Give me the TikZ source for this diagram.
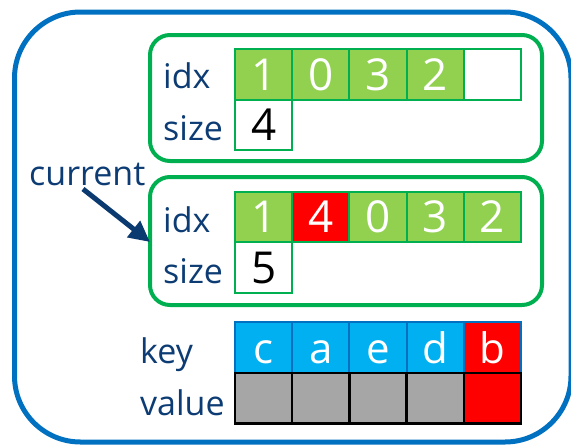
\documentclass[tikz,border=0pt]{standalone}
\usepackage{fontspec}
\setmainfont{Open Sans}
\usetikzlibrary{arrows.meta}
\definecolor{frameblue}{RGB}{0,112,192}
\definecolor{framegreen}{RGB}{0,176,80}
\definecolor{cellgreen}{RGB}{146,208,80}
\definecolor{cellblue}{RGB}{0,176,240}
\definecolor{cellred}{RGB}{255,0,0}
\definecolor{cellgrey}{RGB}{166,166,166}
\definecolor{labelblue}{RGB}{12,60,115}
\definecolor{arrowblue}{RGB}{11,58,112}
\tikzset{
  labeltext/.style={anchor=base west, inner sep=0pt, text=labelblue,
    font=\fontsize{34}{40}\selectfont},
  cell/.style={minimum width=57.2pt, minimum height=50.5pt, inner sep=0pt,
    text height=31pt, text depth=0pt, line width=2pt},
  idxcell/.style={cell, draw=framegreen, fill=cellgreen, text=white,
    font=\fontsize{44}{50}\selectfont},
  newcell/.style={idxcell, fill=cellred},
  emptycell/.style={cell, draw=framegreen, fill=white},
  sizecell/.style={cell, draw=framegreen, fill=white, text=black,
    font=\fontsize{44}{50}\selectfont},
  keycell/.style={cell, draw=frameblue, fill=cellblue, text=white,
    font=\fontsize{42}{48}\selectfont},
  newkeycell/.style={keycell, fill=cellred},
  valcell/.style={cell, draw=black, fill=cellgrey, line width=2.5pt},
  newvalcell/.style={valcell, fill=cellred},
  group/.style={draw=framegreen, line width=4pt, rounded corners=20pt},
}
\begin{document}
\begin{tikzpicture}[x=1pt, y=-1pt]
\useasboundingbox (0,0) rectangle (571,445);

% outer container
\draw[frameblue, line width=5pt, rounded corners=66pt] (14.5,12) rectangle (571,442);

% two index snapshots
\draw[group] (150,35) rectangle (542,161);
\draw[group] (150,177) rectangle (542,305);

% first snapshot: idx row and size
\node[labeltext] (idxA) at (163,88) {idx};
\node[labeltext] (sizeA) at (163,140) {size};
\foreach \v [count=\i from 0] in {1,0,3,2} {
  \node[idxcell] (a\i) at (263.6+57.2*\i,74.5) {\v};
}
\node[emptycell] (a4) at (263.6+57.2*4,74.5) {};
\node[sizecell] (sa) at (263.6,125.2) {4};

% second snapshot: idx row and size
\node[labeltext] (idxB) at (163,232) {idx};
\node[labeltext] (sizeB) at (163,283) {size};
\node[idxcell] (b0) at (263.6,217) {1};
\node[newcell] (b1) at (263.6+57.2,217) {4};
\foreach \v [count=\i from 2] in {0,3,2} {
  \node[idxcell] (b\i) at (263.6+57.2*\i,217) {\v};
}
\node[sizecell] (sb) at (263.6,267.5) {5};

% pointer to the current snapshot
\node[labeltext] (cur) at (29,185) {current};
\coordinate (curtail) at (83,189);
\coordinate (curtip) at (150,242);
\draw[arrowblue, line width=5pt, -{Triangle[length=21pt,width=20pt]}]
  (curtail) -- (curtip);

% key/value storage
\node[labeltext] (keyL) at (140,363) {key};
\node[labeltext] (valL) at (140,415) {value};
\foreach \k [count=\i from 0] in {c,a,e,d} {
  \node[keycell] (k\i) at (263.6+57.2*\i,347.5) {\k};
  \node[valcell] (v\i) at (263.6+57.2*\i,398) {};
}
\node[newkeycell] (k4) at (263.6+57.2*4,347.5) {b};
\node[newvalcell] (v4) at (263.6+57.2*4,398) {};
\end{tikzpicture}
\end{document}
